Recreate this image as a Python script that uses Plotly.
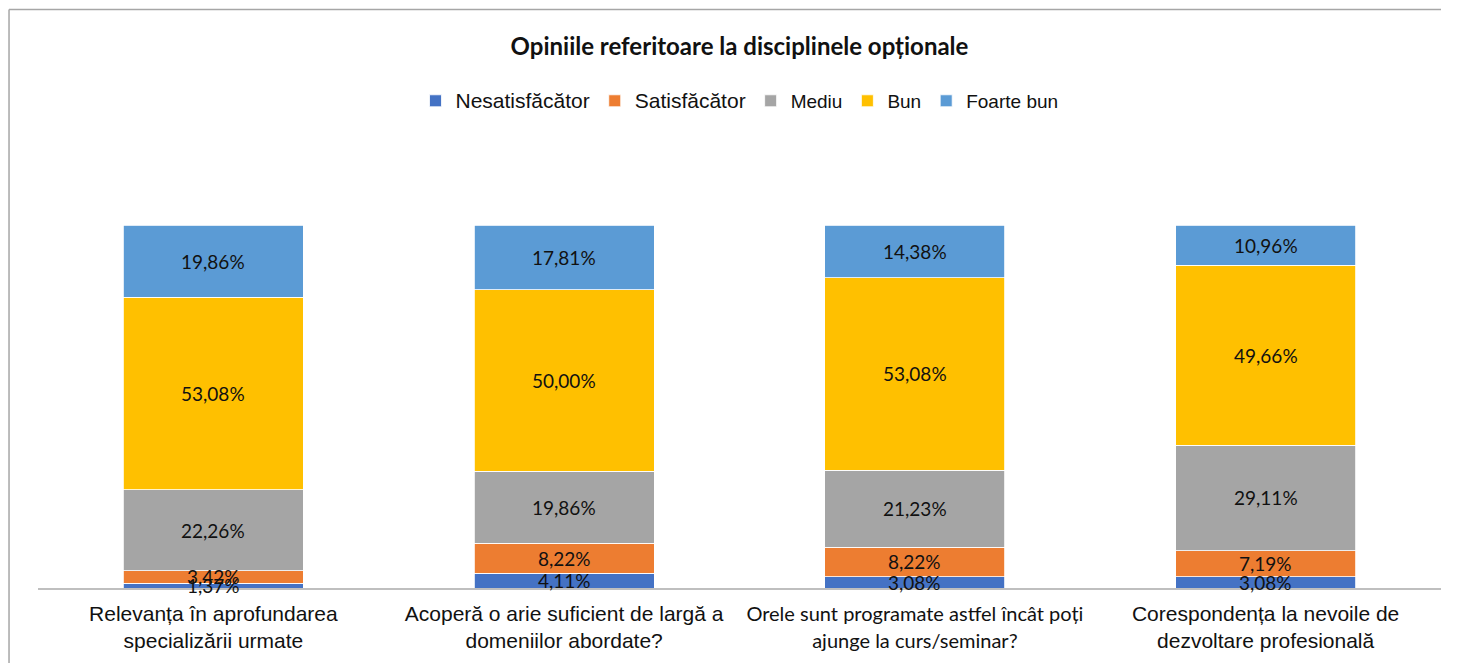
import plotly.graph_objects as go

# categories (questions) and the answer levels
categories = [
    "Relevanța în aprofundarea<br>specializării urmate",
    "Acoperă o arie suficient de largă a<br>domeniilor abordate?",
    "Orele sunt programate astfel încât poți<br>ajunge la curs/seminar?",
    "Corespondența la nevoile de<br>dezvoltare profesională",
]
levels = ["Nesatisfăcător", "Satisfăcător", "Mediu", "Bun", "Foarte bun"]

# percentages per level, one value per category
nesatisfacator = [1.37, 4.11, 3.08, 3.08]
satisfacator = [3.42, 8.22, 8.22, 7.19]
mediu = [22.26, 19.86, 21.23, 29.11]
bun = [53.08, 50.00, 53.08, 49.66]
foarte_bun = [19.86, 17.81, 14.38, 10.96]

series = [nesatisfacator, satisfacator, mediu, bun, foarte_bun]
colors = ["#4472C4", "#ED7D31", "#A5A5A5", "#FFC000", "#5B9BD5"]

# first two legend entries are drawn a bit larger in the original
legend_names = [
    '<span style="font-size:21px">' + levels[0] + "</span>",
    '<span style="font-size:21px">' + levels[1] + "</span>",
    levels[2], levels[3], levels[4],
]

# the third label uses a Calibri-like face in the original
tick_text = list(categories)
tick_text[2] = '<span style="font-family:Lato;font-size:20px">' + categories[2] + "</span>"

fig = go.Figure()
for name, vals, col in zip(legend_names, series, colors):
    fig.add_trace(go.Bar(
        x=categories, y=vals, name=name,
        marker=dict(color=col, line=dict(color="white", width=0.8)),
    ))

# data labels sit above all bars so the tiny segments stay readable
base = [0.0] * len(categories)
for vals in series:
    for cat, b, v in zip(categories, base, vals):
        fig.add_annotation(
            x=cat, y=b + v / 2, xref="x", yref="y",
            text=f"{v:.2f}%".replace(".", ","),
            showarrow=False,
            font=dict(family="Lato", size=19, color="#111111"),
        )
    base = [b + v for b, v in zip(base, vals)]

# the page body adds an 8px offset, so the figure is sized to the rest of the window
W, H = 1453, 655
L, R = 29.5, 19.5
PW = W - L - R
fig.update_layout(
    width=W, height=H,
    barmode="stack",
    bargap=0.487,
    paper_bgcolor="white", plot_bgcolor="white",
    margin=dict(l=L, r=R, t=142, b=75),
    font=dict(family="Liberation Sans, Arial", size=19, color="#111111"),
    title=dict(
        text="<b>Opiniile referitoare la disciplinele opționale</b>",
        font=dict(family="Lato", size=24, color="#111111"),
        x=0.5, xref="paper", xanchor="center",
        y=1 - 39 / H, yanchor="middle",
    ),
    legend=dict(
        orientation="h", x=0.5, xanchor="center",
        y=1.112, yanchor="middle",
        traceorder="normal",
        font=dict(family="Liberation Sans, Arial", size=19, color="#111111"),
        itemwidth=30,
    ),
    showlegend=True,
)

fig.update_xaxes(
    tickvals=categories, ticktext=tick_text,
    showline=True, linecolor="#BFBFBF", linewidth=1.5,
    ticks="", showgrid=False,
    tickfont=dict(family="Liberation Sans, Arial", size=21, color="#111111"),
    ticklabelstandoff=6,
)
fig.update_yaxes(visible=False, range=[0, 120.8], showgrid=False)

# outer chart frame: only the top and left edges are inside the picture
frame_x = -29 / PW
frame_y = (580 - 1.5) / 438
fig.add_shape(type="line", xref="paper", yref="paper",
              x0=frame_x, x1=1.0, y0=frame_y, y1=frame_y,
              line=dict(color="#A6A6A6", width=1.5))
fig.add_shape(type="line", xref="paper", yref="paper",
              x0=frame_x, x1=frame_x, y0=-0.3, y1=frame_y,
              line=dict(color="#A6A6A6", width=1.5))

fig.write_html("out.html")
